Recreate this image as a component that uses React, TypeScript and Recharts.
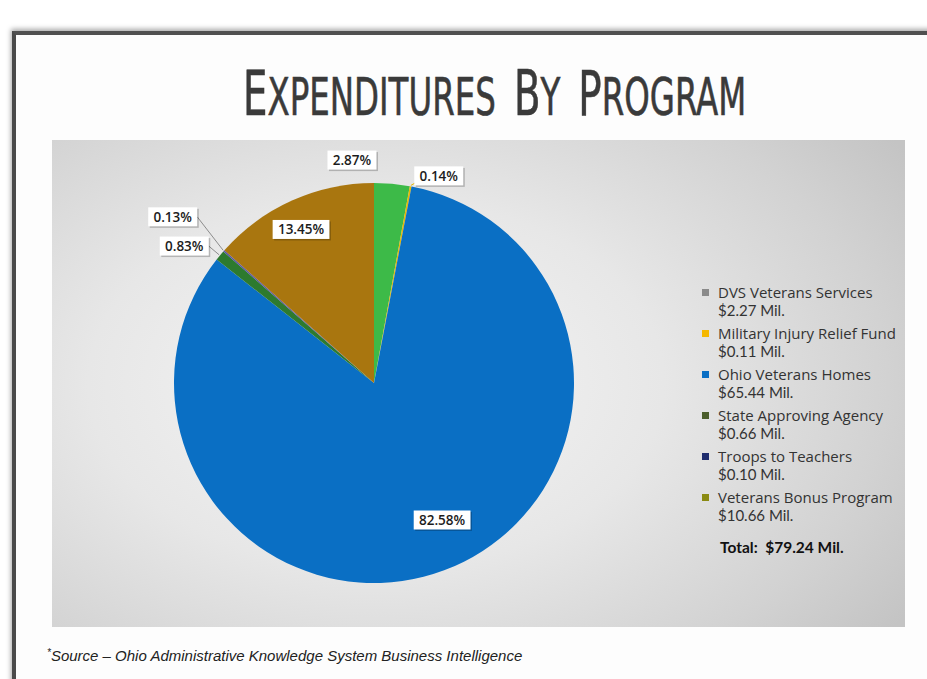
import React, { useLayoutEffect, useRef, useState } from "react";
import { PieChart, Pie, Cell, Legend } from "recharts";

// programs in pie order (clockwise from 12 o'clock)
const programs = [
  "DVS Veterans Services",
  "Military Injury Relief Fund",
  "Ohio Veterans Homes",
  "State Approving Agency",
  "Troops to Teachers",
  "Veterans Bonus Program",
];
const amounts = [2.27, 0.11, 65.44, 0.66, 0.1, 10.66]; // $ Mil.
const amountLabels = ["$2.27 Mil.", "$0.11 Mil.", "$65.44 Mil.", "$0.66 Mil.", "$0.10 Mil.", "$10.66 Mil."];
const pctLabels = ["2.87%", "0.14%", "82.58%", "0.83%", "0.13%", "13.45%"];
const totalLabel = "Total:  $79.24 Mil.";
const titleWords = ["Expenditures", "by", "Program"];

const sliceColors = ["#3dba48", "#e9b800", "#0a6fc4", "#2d7a2f", "#5b55a6", "#a9760f"];
const legendColors = ["#8a8a8a", "#f5b800", "#0a6fc4", "#4b5e2c", "#1f2d6e", "#8a8a12"];

// label placement: angle shift (deg, recharts ccw) and radius ratio, leader line flag
const labelPlace = [
  { shift: 10.8, r: 1.12, line: false },
  { shift: -6.8, r: 1.085, line: true },
  { shift: 5.9, r: 0.765, line: false },
  { shift: 3.8, r: 1.17, line: true },
  { shift: 1.8, r: 1.305, line: true },
  { shift: 1.2, r: 0.85, line: false },
];

const data = programs.map((name, i) => ({ name, value: amounts[i] }));
const RAD = Math.PI / 180;

// eslint-disable-next-line @typescript-eslint/no-explicit-any
function PctLabel(props: any) {
  const { cx, cy, midAngle, outerRadius, index } = props;
  const p = labelPlace[index];
  const a = (midAngle + p.shift) * RAD;
  const lx = cx + outerRadius * p.r * Math.cos(a);
  const ly = cy - outerRadius * p.r * Math.sin(a);
  const text = pctLabels[index];
  const w = text.length * 7.8 + 10;
  const h = 19;
  let line = null;
  if (p.line) {
    const ax = cx + (outerRadius + 1) * Math.cos(midAngle * RAD);
    const ay = cy - (outerRadius + 1) * Math.sin(midAngle * RAD);
    const ex = lx > cx ? lx - w / 2 + 2 : lx + w / 2;
    const ey = lx > cx ? ly + h / 2 - 3 : ly;
    line = <line x1={ax} y1={ay} x2={ex} y2={ey} stroke={lx > cx ? sliceColors[index] : "#8c8c8c"} strokeWidth={1} />;
  }
  return (
    <g>
      {line}
      <rect x={lx - w / 2 + 1.5} y={ly - h / 2 + 1.5} width={w} height={h} fill="rgba(0,0,0,0.22)" />
      <rect x={lx - w / 2} y={ly - h / 2} width={w} height={h} fill="#ffffff" />
      <text x={lx} y={ly} dy={4.7} textAnchor="middle"
        style={{ fontSize: 13.5, fontWeight: 600, fill: "#1c1c1c", fontFamily: '"Open Sans", sans-serif' }}>
        {text}
      </text>
    </g>
  );
}

// condensed small-caps title, squeezed to the reference width
function Title() {
  const ref = useRef<HTMLDivElement>(null);
  const [sx, setSx] = useState(0.7);
  useLayoutEffect(() => {
    if (ref.current) setSx(503 / ref.current.offsetWidth);
  }, []);
  return (
    <div style={{ position: "absolute", left: 243, top: 62, width: 503, height: 70 }}>
      <div ref={ref} style={{
        display: "inline-block", whiteSpace: "nowrap", transform: `scaleX(${sx})`, transformOrigin: "0 0",
        fontFamily: '"DejaVu Sans Condensed", "DejaVu Sans", sans-serif', color: "#3a3a3a",
        WebkitTextStroke: "0.6px #3a3a3a", lineHeight: "64px",
      }}>
        {titleWords.map((w, i) => (
          <span key={w} style={{ marginLeft: i > 0 ? 26 : 0 }}>
            <span style={{ fontSize: 62 }}>{w[0].toUpperCase()}</span>
            <span style={{ fontSize: 52 }}>{w.slice(1).toUpperCase()}</span>
          </span>
        ))}
      </div>
    </div>
  );
}

function LegendBox() {
  return (
    <div style={{ color: "#333", fontSize: 15 }}>
      {programs.map((name, i) => (
        <div key={name} style={{ marginBottom: 5 }}>
          <div style={{ display: "flex", alignItems: "center", height: 18, lineHeight: "18px", fontFamily: '"Open Sans", sans-serif', whiteSpace: "nowrap" }}>
            <span style={{ width: 7, height: 7, background: legendColors[i], display: "inline-block", marginRight: 9, marginLeft: 2 }} />
            {name}
          </div>
          <div style={{ height: 18, lineHeight: "18px", paddingLeft: 18, fontFamily: "Lato, sans-serif" }}>{amountLabels[i]}</div>
        </div>
      ))}
      <div style={{ marginTop: 14, paddingLeft: 20, fontFamily: "Lato, sans-serif", fontWeight: 700, fontSize: 15.5, color: "#111", whiteSpace: "pre" }}>
        {totalLabel}
      </div>
    </div>
  );
}

export default function App() {
  return (
    <div style={{ position: "absolute", left: 0, top: 0, width: 927, height: 679, background: "#fff", overflow: "hidden" }}>
      {/* slide frame */}
      <div style={{
        position: "absolute", left: 12, top: 31, width: 960, height: 720,
        borderTop: "4px solid #505050", borderLeft: "4px solid #4a4a4a",
        boxShadow: "-1px -2px 5px rgba(0,0,0,0.35)", background: "#fdfdfd",
      }} />

      <Title />

      {/* chart panel */}
      <div style={{
        position: "absolute", left: 52, top: 140, width: 853, height: 487,
        background: "radial-gradient(ellipse 75% 85% at 38% 50%, #f6f6f6 0%, #e7e7e7 45%, #d2d2d2 80%, #c4c4c4 100%)",
      }}>
        <PieChart width={853} height={487} margin={{ top: 0, right: 0, bottom: 0, left: 0 }}>
          <Pie data={data} dataKey="value" nameKey="name" cx={322} cy={243} outerRadius={200}
            startAngle={90} endAngle={-270} stroke="none" label={PctLabel} labelLine={false}
            isAnimationActive={false}>
            {data.map((d, i) => <Cell key={d.name} fill={sliceColors[i]} />)}
          </Pie>
          <Legend layout="vertical" align="right" verticalAlign="top" content={() => <LegendBox />}
            wrapperStyle={{ left: 648, top: 143, width: 215 }} />
        </PieChart>
      </div>

      {/* source note */}
      <div style={{
        position: "absolute", left: 47, top: 647, fontSize: 15, fontStyle: "italic", color: "#222",
        fontFamily: '"Liberation Sans Narrow", "Liberation Sans", sans-serif', whiteSpace: "nowrap",
      }}>
        <span style={{ fontSize: 10, verticalAlign: "top" }}>*</span>Source – Ohio Administrative Knowledge System Business Intelligence
      </div>
    </div>
  );
}
